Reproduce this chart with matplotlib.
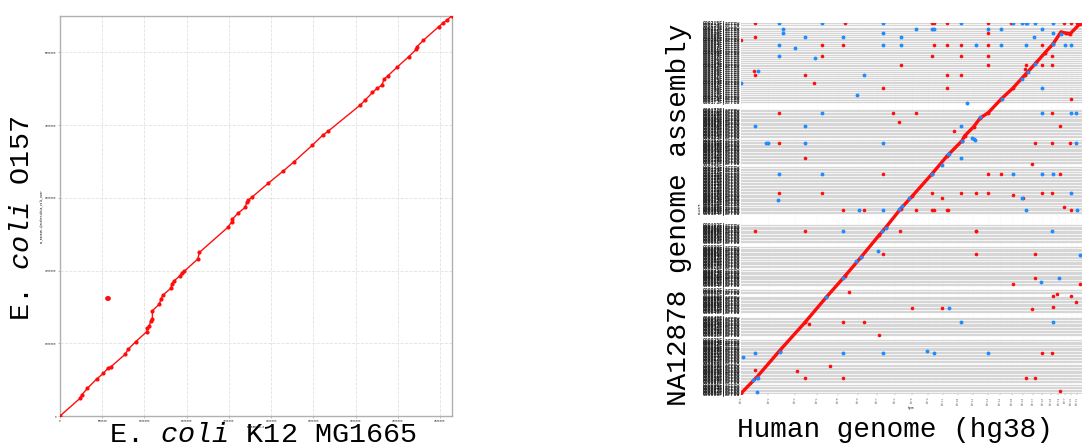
import numpy as np
import matplotlib.pyplot as plt

plt.rcParams['font.family'] = ['Liberation Mono', 'DejaVu Sans']
plt.rcParams['mathtext.fontset'] = 'custom'
plt.rcParams['mathtext.rm'] = 'Liberation Mono'
plt.rcParams['mathtext.it'] = 'Liberation Mono:italic'

# ---- left: E. coli K12 vs O157 (positions in Mb) ----
k12_len = 4641652
o157_len = 5498450
k12_pos = [0, 0.237, 0.257, 0.324, 0.434, 0.513, 0.573, 0.604, 0.770, 0.810,
           0.896, 1.027, 1.035, 1.058, 1.074, 1.094, 1.094, 1.177, 1.193, 1.216,
           1.315, 1.323, 1.351, 1.422, 1.441, 1.473, 1.631, 1.651, 1.986, 2.034,
           2.042, 2.105, 2.192, 2.211, 2.231, 2.279, 2.468, 2.646, 2.772, 2.989,
           3.112, 3.171, 3.554, 3.613, 3.700, 3.752, 3.811, 3.838, 3.882, 3.988,
           4.127, 4.217, 4.225, 4.304, 4.482, 4.541, 4.581, 4.640]
o157_pos = [0, 0.243, 0.289, 0.380, 0.508, 0.586, 0.664, 0.678, 0.847, 0.921,
            1.021, 1.159, 1.205, 1.237, 1.310, 1.328, 1.447, 1.539, 1.603, 1.658,
            1.759, 1.814, 1.859, 1.928, 1.969, 1.992, 2.157, 2.249, 2.592, 2.670,
            2.707, 2.785, 2.867, 2.936, 2.968, 3.014, 3.201, 3.371, 3.495, 3.724,
            3.861, 3.911, 4.273, 4.342, 4.447, 4.502, 4.548, 4.630, 4.676, 4.791,
            4.937, 5.038, 5.075, 5.166, 5.349, 5.409, 5.441, 5.500]
outlier_k12 = [0.560, 0.570]
outlier_o157 = [1.624, 1.628]

# ---- right: hg38 vs NA12878 assembly (Mb) ----
chrom_names = ['chr1', 'chr2', 'chr3', 'chr4', 'chr5', 'chr6', 'chr7', 'chrX',
               'chr8', 'chr9', 'chr11', 'chr10', 'chr12', 'chr13', 'chr14',
               'chr15', 'chr16', 'chr17', 'chr18', 'chr20', 'chr19', 'chrY',
               'chr22', 'chr21']
chrom_len = [248.956, 242.194, 198.295, 190.215, 181.538, 170.806, 159.346,
             156.041, 145.139, 138.395, 135.087, 133.797, 133.275, 114.364,
             107.044, 101.991, 90.338, 83.257, 80.373, 64.444, 58.617, 57.227,
             50.818, 46.710]

contig_len = [12, 10, 14, 11, 13, 13, 24,
              10, 12, 9, 14, 11, 13, 10, 12, 15, 9, 11, 11, 24,
              11, 13, 12, 10, 14, 12, 11, 13, 12, 9, 12, 13, 11, 12, 13, 40,
              12, 10, 13, 11, 12, 14, 9, 12, 11, 10, 12, 11, 49,
              11, 12, 10, 13, 12, 9, 11, 14, 10, 8, 11, 32,
              12, 12, 40,
              10, 12, 11, 13, 9, 12, 10, 11, 12, 10, 11, 24,
              12, 11, 13, 10, 12, 14, 11, 12, 10, 13, 12, 11, 9, 12, 40,
              12, 10, 13, 11, 12, 14, 9, 12, 11, 10, 12, 11, 97,
              12, 11, 13, 10, 12, 14, 11, 12, 10, 13, 12, 11, 9, 12, 13, 12,
              11, 14, 10, 12, 13, 11, 12, 13, 12, 11, 14, 13, 12, 14, 13, 32,
              12, 11, 13, 10, 12, 14, 11, 12, 10, 13, 12, 11, 9, 12, 13, 11, 24,
              12, 11, 13, 10, 12, 14, 11, 12, 10, 13, 12, 11, 9, 12, 13, 12, 11, 14, 6, 65,
              14, 16, 15, 13, 17, 15, 14, 16, 15, 18, 13, 15, 16, 14, 15, 17, 14,
              16, 15, 13, 16, 15, 14, 17, 15, 16, 14, 15, 13, 16, 15, 17, 14, 15,
              16, 15, 14, 16, 15, 13, 17, 20]

diag_ref = [0, 147, 351, 579, 771, 945, 1086, 1251, 1311, 1446, 1551, 1731,
            1866, 2001, 2025, 2106, 2166, 2241, 2355, 2460, 2571, 2676, 2751,
            2826, 2898, 2946, 2979, 3069]
diag_qry = [5, 140, 351, 578, 780, 956, 1104, 1283, 1345, 1496, 1598, 1779,
            1922, 2044, 2084, 2157, 2228, 2273, 2381, 2468, 2576, 2678, 2754,
            2827, 2924, 2913, 2908, 2989]

# reverse alignments lying on the diagonal
rev_diag_ref = [111, 150, 351, 771, 921, 1041, 1086, 1281, 1311, 1431, 1461,
                1521, 1731, 1821, 1881, 2001, 2166, 2361, 2541, 2601, 2661, 2826, 2901]
rev_diag_qry = [113, 132, 343, 780, 937, 1077, 1104, 1320, 1342, 1496, 1517,
                1580, 1779, 1850, 1936, 2044, 2233, 2381, 2543, 2597, 2665, 2827, 2908]

# forward alignments off the diagonal
fwd_ref = [126, 945, 1731, 1746, 1869, 2241, 2442, 2925, 2991, 3042,
           2241, 2961, 126, 0,
           735, 921, 1746, 1869, 1995, 2241, 2730,
           735, 1731, 1995, 2241, 2820,
           1446, 2241, 2580, 2730, 2820, 2571, 120,
           126, 579, 1869, 1995, 660, 1284, 1869, 2991,
           342, 1377, 1584, 2820, 1434, 2886, 1929,
           342, 2661, 2820, 2976, 579, 2631,
           1284, 2241, 2352, 2886,
           342, 735, 1731, 1995, 2124, 2241, 2730, 2820,
           2460, 1821, 2550, 2922,
           921, 1116, 1581, 1731, 1746, 1869, 1875, 2991,
           126, 579, 1440, 2124, 2130,
           1284, 2124, 2661, 2661, 2466, 3066, 975, 2862, 2826, 2991, 3036,
           2826, 1545, 1821, 2631, 921, 1116, 618, 1251,
           2730, 2820, 807, 126, 510, 579, 921, 2577, 2661, 2892]
fwd_qry = [2994, 2994, 2994, 2994, 2994, 2994, 2994, 2994, 2994, 2994,
           2913, 2913, 2881, 2859,
           2822, 2822, 2822, 2822, 2822, 2822, 2822,
           2727, 2727, 2727, 2727, 2727,
           2657, 2657, 2657, 2657, 2657, 2624, 2611,
           2579, 2579, 2579, 2579, 2508, 2468, 2468, 2381,
           2268, 2268, 2268, 2268, 2198, 2165, 2120,
           2030, 2030, 2030, 2030, 1904, 1855,
           1779, 1779, 1779, 1779,
           1625, 1625, 1625, 1625, 1625, 1625, 1625, 1625,
           1607, 1580, 1580, 1509,
           1482, 1482, 1482, 1482, 1482, 1482, 1482, 1482,
           1320, 1320, 1320, 1320, 1320,
           1134, 1134, 1134, 937, 891, 891, 826, 810, 794, 794, 740,
           702, 694, 694, 686, 578, 578, 564, 478,
           335, 335, 227, 194, 186, 132, 132, 132, 132, 27]

# reverse alignments off the diagonal
rev_ref = [342, 735, 1284, 1995, 2460, 2541, 2577, 2592, 2661, 2826,
           381, 1587, 1731, 1752, 2241, 2352, 2730,
           381, 1284, 2826,
           579, 921, 1446, 2655,
           342, 1284, 1446, 2124, 2352, 2577, 2931, 2985,
           486, 342, 666, 150, 1116, 0, 2730, 1050, 2043,
           735, 2730, 2991, 3036,
           126, 579, 1995,
           2091, 2106, 2118,
           225, 240, 579, 1284, 3036,
           1872, 1995,
           342, 735, 2460, 2730, 2826,
           2991, 2541, 336,
           1071, 1284, 2577, 3042,
           921, 2820, 1245, 3066, 2880, 2721, 1887, 1995, 2826,
           1686, 126, 921, 1287, 1746, 2241, 15, 147, 147]
rev_qry = [2994, 2994, 2994, 2994, 2994, 2994, 2994, 2994, 2994, 2994,
           2948, 2948, 2948, 2948, 2948, 2948, 2948,
           2913, 2913, 2913,
           2881, 2881, 2881, 2881,
           2822, 2822, 2822, 2822, 2822, 2822, 2822, 2822,
           2792, 2727, 2711, 2611, 2579, 2508, 2468, 2414, 2354,
           2268, 2268, 2268, 2268,
           2165, 2165, 2165,
           2071, 2063, 2055,
           2030, 2030, 2030, 2030, 2030,
           1936, 1904,
           1779, 1779, 1779, 1779, 1779,
           1625, 1580, 1563,
           1482, 1482, 1482, 1482,
           1320, 1320, 1153, 1126, 937, 905, 694, 578, 578,
           348, 335, 335, 335, 335, 335, 302, 132, 14]

red = '#ff0d0d'
blue = '#1e8cff'

fig = plt.figure(figsize=(10.82, 4.45), dpi=100)

# ---------------- left panel ----------------
axL = fig.add_axes([60 / 1082, 29 / 445, 392 / 1082, 400 / 445])
x = np.array(k12_pos) * 1e6
y = np.array(o157_pos) * 1e6
axL.plot(x, y, '-', color=red, lw=1.0, zorder=3)
axL.plot(x, y, 'o', color=red, ms=3.0, mew=0, zorder=4)
axL.plot(np.array(outlier_k12) * 1e6, np.array(outlier_o157) * 1e6, 'o-',
         color=red, ms=3.4, mew=0, zorder=4)
axL.set_xlim(0, k12_len)
axL.set_ylim(0, o157_len)
axL.set_xticks(np.arange(0, 4600001, 500000))
axL.set_yticks(np.arange(0, 5000001, 1000000))
axL.ticklabel_format(style='plain', useOffset=False)
axL.tick_params(labelsize=2, length=1.5, width=0.4, color='#888888',
                labelcolor='#444444', pad=1)
axL.grid(True, ls='--', color='#e2e2e2', lw=0.6)
for s in axL.spines.values():
    s.set_color('#b0b0b0')
    s.set_linewidth(1.0)
axL.set_xlabel('NC_000913.3', fontsize=2, labelpad=1)
axL.set_ylabel('NC_002695.1|Escherichia_coli_O157', fontsize=2, labelpad=1)

# ---------------- right panel ----------------
axR = fig.add_axes([741 / 1082, 51 / 445, 341 / 1082, 371 / 445])
chrom_start = np.concatenate([[0], np.cumsum(chrom_len)[:-1]])
contig_edges = np.concatenate([[0], np.cumsum(contig_len)])
contig_names = ['%06dF|arrow' % i for i in range(len(contig_edges))]

axR.set_xlim(0, sum(chrom_len))
axR.set_ylim(0, sum(contig_len))
axR.set_xticks(chrom_start)
axR.set_xticklabels(chrom_names, rotation=90)
axR.set_yticks(contig_edges)
axR.set_yticklabels(contig_names, fontweight='bold')
axR.tick_params(axis='x', labelsize=2, length=1, width=0.3, pad=1,
                colors='#666666')
axR.tick_params(axis='y', labelsize=3.4, length=0, pad=0.5, labelcolor='#1a1a1a')
axR.set_axisbelow(True)
axR.grid(axis='y', color='#d6d6d6', lw=0.9)
axR.grid(axis='x', color='#eeeeee', lw=0.5, ls=':')
for s in axR.spines.values():
    s.set_visible(False)

axR.plot(diag_ref, diag_qry, '-', color=red, lw=2.4, zorder=3)
axR.plot(diag_ref, diag_qry, 'o', color=red, ms=2.8, mew=0, zorder=3)
axR.plot(fwd_ref, fwd_qry, 'o', color=red, ms=2.6, mew=0, zorder=4)
axR.plot(rev_diag_ref, rev_diag_qry, 'o', color=blue, ms=2.8, mew=0, zorder=5)
axR.plot(rev_ref, rev_qry, 'o', color=blue, ms=2.8, mew=0, zorder=5)
axR.set_xlabel('hg38', fontsize=2, labelpad=1)
axR.set_ylabel('NA12878', fontsize=2, labelpad=0.5)

# ---------------- big labels ----------------
fig.text(263 / 1082, 1 - 435 / 445, r'E. $\mathit{coli}$ K12 MG1665',
         fontsize=20.5, ha='center', va='center')
fig.text(22 / 1082, 1 - 218 / 445, r'E. $\mathit{coli}$ O157',
         fontsize=20.5, ha='center', va='center', rotation=90)
fig.text(895 / 1082, 1 - 430 / 445, 'Human genome (hg38)',
         fontsize=20, ha='center', va='center')
fig.text(679 / 1082, 1 - 215 / 445, 'NA12878 genome assembly',
         fontsize=20, ha='center', va='center', rotation=90)

fig.savefig('out.png', dpi=100)
